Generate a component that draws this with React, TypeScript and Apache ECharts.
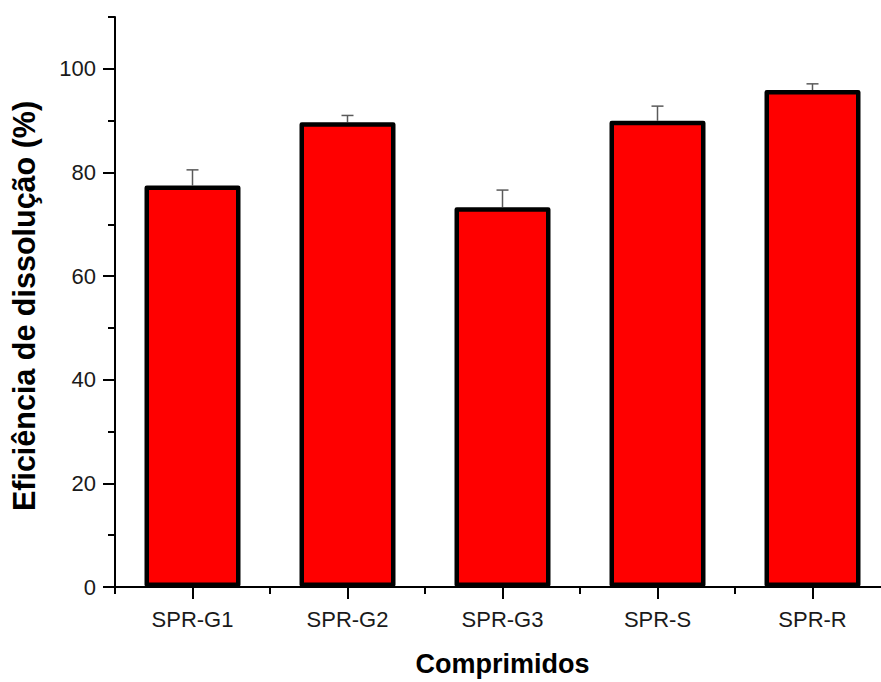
import React, { useEffect, useRef } from "react";
import * as echarts from "echarts";

// Formulations and their dissolution efficiency (mean and standard deviation, %)
const categories = ["SPR-G1", "SPR-G2", "SPR-G3", "SPR-S", "SPR-R"];
const efficiency = [77.5, 89.7, 73.3, 90.0, 95.9];
const deviation = [3.0, 1.3, 3.3, 2.8, 1.2];

const majorTicks = [0, 20, 40, 60, 80, 100];
const minorTicks = [10, 30, 50, 70, 90, 110];

const FONT = "'Liberation Sans', Arial, Helvetica, sans-serif";

export default function App() {
  const ref = useRef<HTMLDivElement>(null);

  useEffect(() => {
    if (!ref.current) return;
    const chart = echarts.init(ref.current, null, { renderer: "svg" });

    const errorData = efficiency.map((v, i) => [i, v, v + deviation[i]]);

    chart.setOption({
      animation: false,
      backgroundColor: "#ffffff",
      // the plot runs slightly past the right edge of the visible frame
      grid: { left: 112, right: 0, top: 17, bottom: 89 },
      xAxis: [
        {
          type: "category",
          data: categories,
          name: "Comprimidos",
          nameLocation: "middle",
          nameGap: 63,
          nameTextStyle: {
            fontFamily: FONT,
            fontSize: 27,
            fontWeight: "bold",
            color: "#000",
          },
          axisLine: { show: true, lineStyle: { color: "#000", width: 2 } },
          axisTick: {
            show: true,
            alignWithLabel: true,
            length: 12,
            lineStyle: { color: "#000", width: 2 },
          },
          axisLabel: {
            fontFamily: FONT,
            fontSize: 22,
            color: "#1a1a1a",
            margin: 21,
          },
          splitLine: { show: false },
        },
        {
          type: "category",
          data: categories,
          position: "bottom",
          axisLine: { show: false },
          axisTick: {
            show: true,
            alignWithLabel: false,
            length: 7,
            lineStyle: { color: "#000", width: 2 },
          },
          axisLabel: { show: false },
          splitLine: { show: false },
        },
      ],
      yAxis: [
        {
          type: "value",
          min: 0,
          max: 110,
          interval: 10,
          name: "Eficiência de dissolução (%)",
          nameLocation: "middle",
          nameGap: 76,
          nameRotate: 90,
          nameTextStyle: {
            fontFamily: FONT,
            fontSize: 30.5,
            fontWeight: "bold",
            color: "#000",
            padding: [0, 8, 0, 0],
          },
          axisLine: { show: true, lineStyle: { color: "#000", width: 2 } },
          axisTick: {
            show: true,
            length: 12,
            customValues: majorTicks,
            lineStyle: { color: "#000", width: 2 },
          },
          axisLabel: {
            fontFamily: FONT,
            fontSize: 22,
            color: "#1a1a1a",
            margin: 19,
            customValues: majorTicks,
          },
          splitLine: { show: false },
        },
        {
          type: "value",
          min: 0,
          max: 110,
          interval: 10,
          position: "left",
          axisLine: { show: false },
          axisTick: {
            show: true,
            length: 7,
            customValues: minorTicks,
            lineStyle: { color: "#000", width: 2 },
          },
          axisLabel: { show: false },
          splitLine: { show: false },
        },
      ],
      series: [
        {
          type: "custom",
          xAxisIndex: 0,
          yAxisIndex: 0,
          z: 1,
          data: errorData,
          encode: { x: 0, y: [1, 2] },
          renderItem: (params: any, api: any) => {
            const base = api.coord([api.value(0), api.value(1)]);
            const top = api.coord([api.value(0), api.value(2)]);
            const half = 6;
            const style = { stroke: "#5a5a5a", lineWidth: 1.5 };
            return {
              type: "group",
              children: [
                {
                  type: "line",
                  shape: { x1: base[0], y1: base[1], x2: top[0], y2: top[1] },
                  style,
                },
                {
                  type: "line",
                  shape: { x1: top[0] - half, y1: top[1], x2: top[0] + half, y2: top[1] },
                  style,
                },
              ],
            };
          },
        },
        {
          type: "bar",
          xAxisIndex: 0,
          yAxisIndex: 0,
          z: 2,
          data: efficiency,
          barWidth: 96,
          itemStyle: {
            color: "#ff0000",
            borderColor: "#000000",
            borderWidth: 4.5,
            borderJoin: "round",
          },
        },
      ],
    });

    return () => chart.dispose();
  }, []);

  return (
    <div
      style={{
        position: "fixed",
        left: 0,
        top: 0,
        width: 881,
        height: 682,
        overflow: "hidden",
        background: "#fff",
      }}
    >
      <div ref={ref} style={{ width: 890, height: 682 }} />
    </div>
  );
}
